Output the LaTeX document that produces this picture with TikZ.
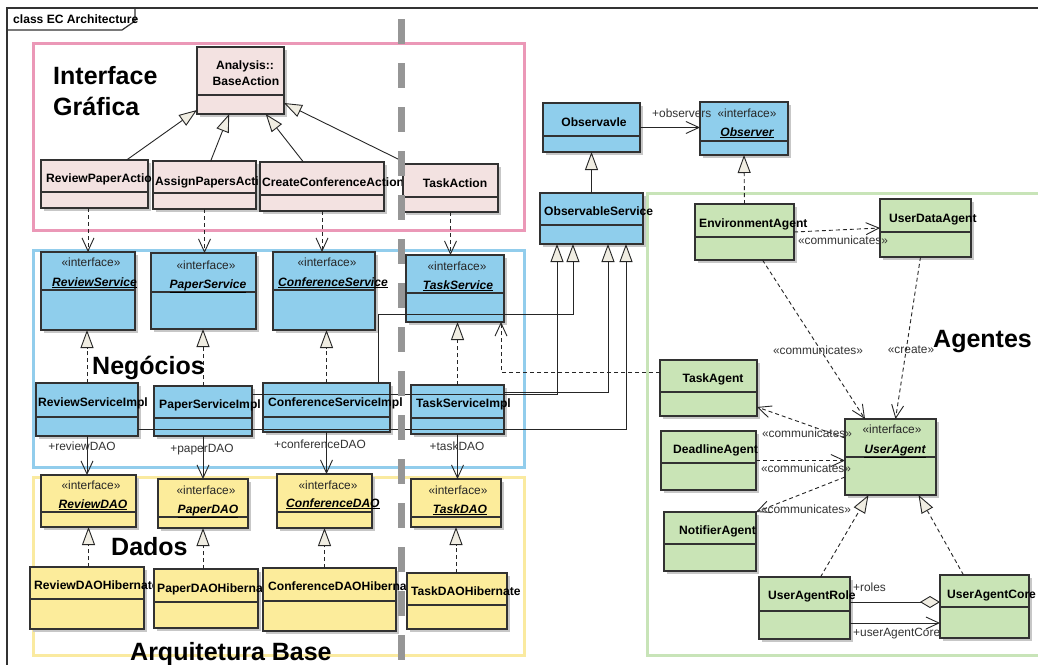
\documentclass[tikz,border=0pt]{standalone}
\usepackage{fontspec}
\setmainfont{Liberation Sans}
\usetikzlibrary{arrows.meta,calc,shadows}

\definecolor{pkpink}{RGB}{235,152,183}
\definecolor{pkblue}{RGB}{146,205,236}
\definecolor{pkyellow}{RGB}{250,234,160}
\definecolor{pkgreen}{RGB}{200,228,184}
\definecolor{clpink}{RGB}{243,226,225}
\definecolor{clblue}{RGB}{143,206,236}
\definecolor{clyellow}{RGB}{252,236,155}
\definecolor{clgreen}{RGB}{201,228,182}
\definecolor{trifill}{RGB}{240,237,226}
\definecolor{edge}{RGB}{50,50,50}
\definecolor{sepgray}{RGB}{150,150,150}

\tikzset{
  pkg/.style={line width=3pt},
  classbox/.style={draw=edge, line width=1.1pt, inner sep=0pt, outer sep=0pt, anchor=north west,
    drop shadow={shadow xshift=3pt, shadow yshift=-3pt, fill=black!22, opacity=1}},
  divline/.style={draw=edge, line width=1.1pt},
  nm/.style={font=\fontsize{12.1}{14}\selectfont\bfseries, inner sep=0pt, text=black},
  stereo/.style={font=\fontsize{11.9}{14}\selectfont, inner sep=0pt, text=black!85},
  ifname/.style={font=\fontsize{12.1}{14}\selectfont\bfseries\itshape, inner sep=0pt, text=black},
  lbl/.style={font=\fontsize{11.9}{14}\selectfont, inner sep=0pt, text=black!80},
  big/.style={font=\fontsize{25}{30}\selectfont\bfseries, inner sep=0pt, anchor=base west},
  conn/.style={draw=black!85, line width=0.9pt},
  gen/.style={conn, -{Triangle[length=18pt,width=13pt,fill=trifill]}},
  real/.style={gen, dash pattern=on 4pt off 3pt},
  assoc/.style={conn, -{Straight Barb[length=13pt,width=12pt]}},
  dep/.style={assoc, dash pattern=on 4pt off 3pt},
  aggr/.style={conn, -{Diamond[length=20pt,width=12pt,fill=trifill]}},
  sepbar/.style={line width=7pt, draw=sepgray, dash pattern=on 25pt off 19pt},
  framel/.style={draw=edge, line width=1.2pt},
}

% class box: name, fill, x1, y1, x2, y2, y of the compartment line
\newcommand\umlclass[7]{%
  \node[classbox, fill=#2, minimum width={(#5-#3)*1pt}, minimum height={(#6-#4)*1pt}] (#1) at (#3,#4) {};
  \draw[divline] (#3,#7) -- (#5,#7);
}

\begin{document}
\begin{tikzpicture}[x=1pt,y=-1pt]
\useasboundingbox (0,0) rectangle (1038,664);
\clip (0,0) rectangle (1038,664);
\fill[white] (0,0) rectangle (1038,664);

% layer packages
\draw[pkg, draw=pkpink]   (33,43)  rectangle (524,230);
\draw[pkg, draw=pkblue]   (33,250) rectangle (524,467);
\draw[pkg, draw=pkyellow] (33,477) rectangle (524,655);
\draw[pkg, draw=pkgreen]  (647,193) rectangle (1042,655);

% diagram frame and its tab
\draw[framel] (7,670) -- (7,8) -- (1045,8);
\draw[framel] (7,30) -- (122,30) -- (135,21) -- (135,8);
\node[nm, anchor=base west] (title) at (13,23) {class EC Architecture};

% layer titles
\node[big] (lgui1) at (53,84)  {Interface};
\node[big] (lgui2) at (53,115) {Gráfica};
\node[big] (lneg)  at (92,374) {Negócios};
\node[big] (ldad)  at (111,555) {Dados};
\node[big] (lbase) at (130,660) {Arquitetura Base};
\node[big] (lagt)  at (933,347) {Agentes};

% ---- user interface actions
\umlclass{ba}{clpink}{197}{47}{284}{114}{95}
\node[nm, anchor=base] (tba1) at (245,69) {Analysis::};
\node[nm, anchor=base] (tba2) at (246,85) {BaseAction};
\umlclass{rpa}{clpink}{41}{160}{148}{208}{192}
\node[nm, anchor=base west] (trpa) at (46,182) {ReviewPaperAction};
\umlclass{apa}{clpink}{153}{161}{256}{209}{193}
\node[nm, anchor=base west] (tapa) at (155,185) {AssignPapersAction};
\umlclass{cca}{clpink}{260}{162}{384}{211}{195}
\node[nm, anchor=base west] (tcca) at (262,186) {CreateConferenceAction};
\umlclass{ta}{clpink}{403}{164}{498}{212}{197}
\node[nm, anchor=base] (tta) at (455,187) {TaskAction};

% ---- business services
\umlclass{rs}{clblue}{41}{252}{135}{330}{290}
\node[stereo, anchor=base] (srs) at (91,266) {«interface»};
\node[ifname, anchor=base west] (trs) at (52,286) {\underline{ReviewService}};
\umlclass{ps}{clblue}{151}{253}{256}{329}{292}
\node[stereo, anchor=base] (sps) at (206,269) {«interface»};
\node[ifname, anchor=base] (tps) at (208,288) {\underline{PaperService}};
\umlclass{cs}{clblue}{273}{252}{375}{330}{290}
\node[stereo, anchor=base] (scs) at (327,266) {«interface»};
\node[ifname, anchor=base west] (tcs) at (278,286) {\underline{ConferenceService}};
\umlclass{ts}{clblue}{406}{255}{504}{322}{293}
\node[stereo, anchor=base] (sts) at (457,270) {«interface»};
\node[ifname, anchor=base] (tts) at (458,289) {\underline{TaskService}};

\umlclass{rsi}{clblue}{36}{383}{138}{436}{417}
\node[nm, anchor=base west] (trsi) at (38,406) {ReviewServiceImpl};
\umlclass{psi}{clblue}{154}{386}{252}{436}{418}
\node[nm, anchor=base west] (tpsi) at (159,408) {PaperServiceImpl};
\umlclass{csi}{clblue}{263}{383}{390}{432}{417}
\node[nm, anchor=base west] (tcsi) at (268,406) {ConferenceServiceImpl};
\umlclass{tsi}{clblue}{411}{385}{504}{434}{418}
\node[nm, anchor=base west] (ttsi) at (416,407) {TaskServiceImpl};

% ---- observer pattern
\umlclass{obv}{clblue}{543}{103}{640}{152}{136}
\node[nm, anchor=base] (tobv) at (594,126) {Observavle};
\umlclass{os}{clblue}{540}{193}{643}{244}{225}
\node[nm, anchor=base west] (tos) at (544,215) {ObservableService};
\umlclass{obs}{clblue}{700}{102}{788}{155}{141}
\node[stereo, anchor=base] (sobs) at (747,117) {«interface»};
\node[ifname, anchor=base] (tobs) at (747,136) {\underline{Observer}};

% ---- data access
\umlclass{rd}{clyellow}{41}{475}{136}{527}{512}
\node[stereo, anchor=base] (srd) at (91,489) {«interface»};
\node[ifname, anchor=base] (trd) at (93,508) {\underline{ReviewDAO}};
\umlclass{pd}{clyellow}{158}{479}{248}{528}{517}
\node[stereo, anchor=base] (spd) at (206,494) {«interface»};
\node[ifname, anchor=base] (tpd) at (208,513) {\underline{PaperDAO}};
\umlclass{cd}{clyellow}{277}{474}{372}{528}{512}
\node[stereo, anchor=base] (scd) at (328,489) {«interface»};
\node[ifname, anchor=base west] (tcd) at (286,507) {\underline{ConferenceDAO}};
\umlclass{td}{clyellow}{411}{479}{501}{527}{517}
\node[stereo, anchor=base] (std) at (458,494) {«interface»};
\node[ifname, anchor=base] (ttd) at (460,513) {\underline{TaskDAO}};

\umlclass{rdh}{clyellow}{30}{567}{144}{629}{599}
\node[nm, anchor=base west] (trdh) at (34,589) {ReviewDAOHibernate};
\umlclass{pdh}{clyellow}{154}{569}{258}{628}{602}
\node[nm, anchor=base west] (tpdh) at (157,592) {PaperDAOHibernate};
\umlclass{cdh}{clyellow}{263}{568}{396}{631}{601}
\node[nm, anchor=base west] (tcdh) at (268,590) {ConferenceDAOHibernate};
\umlclass{tdh}{clyellow}{407}{573}{507}{629}{605}
\node[nm, anchor=base west] (ttdh) at (411,595) {TaskDAOHibernate};

% ---- agents
\umlclass{ea}{clgreen}{695}{204}{794}{260}{237}
\node[nm, anchor=base west] (tea) at (699,227) {EnvironmentAgent};
\umlclass{uda}{clgreen}{880}{199}{971}{257}{232}
\node[nm, anchor=base west] (tuda) at (889,222) {UserDataAgent};
\umlclass{tag}{clgreen}{660}{360}{757}{416}{392}
\node[nm, anchor=base] (ttag) at (713,382) {TaskAgent};
\umlclass{dla}{clgreen}{661}{431}{756}{490}{463}
\node[nm, anchor=base west] (tdla) at (673,453) {DeadlineAgent};
\umlclass{na}{clgreen}{664}{512}{756}{571}{544}
\node[nm, anchor=base west] (tna) at (679,534) {NotifierAgent};
\umlclass{ua}{clgreen}{845}{419}{936}{495}{457}
\node[stereo, anchor=base] (sua) at (892,433) {«interface»};
\node[ifname, anchor=base] (tua) at (895,453) {\underline{UserAgent}};
\umlclass{uar}{clgreen}{759}{577}{850}{639}{611}
\node[nm, anchor=base west] (tuar) at (768,599) {UserAgentRole};
\umlclass{uac}{clgreen}{940}{575}{1029}{638}{607}
\node[nm, anchor=base west] (tuac) at (947,598) {UserAgentCore};

% ---- connectors: actions
\draw[gen] ($(rpa.north west)!0.8!(rpa.north east)$) -- ($(ba.south west)+(0,-4)$);
\draw[gen] ($(apa.north west)!0.56!(apa.north east)$) -- ($(ba.south west)!0.37!(ba.south east)$);
\draw[gen] ($(cca.north west)!0.35!(cca.north east)$) -- ($(ba.south west)!0.79!(ba.south east)$);
\draw[gen] ($(ta.north west)+(-3,-4)$) -- ($(ba.south east)+(0,-11)$);

\draw[dep] (rs.north |- rpa.south) -- (rs.north);
\draw[dep] (apa.south) -- (apa.south |- ps.north);
\draw[dep] (cca.south) -- (cca.south |- cs.north);
\draw[dep] (ta.south) -- (ta.south |- ts.north);

% ---- connectors: services
\draw[real] (rsi.north) -- (rsi.north |- rs.south);
\draw[real] (psi.north) -- (psi.north |- ps.south);
\draw[real] (csi.north) -- (csi.north |- cs.south);
\draw[real] (tsi.north) -- (tsi.north |- ts.south);

\coordinate (os1) at ($(os.south west)!0.165!(os.south east)$);
\coordinate (os2) at ($(os.south west)!0.32!(os.south east)$);
\coordinate (os3) at ($(os.south west)!0.66!(os.south east)$);
\coordinate (os4) at ($(os.south west)!0.835!(os.south east)$);
\draw[gen] ($(rsi.south east)+(0,-7)$) -| (os4);
\draw[gen] ($(psi.north east)+(0,8)$) -| (os1);
\draw[gen] ($(tsi.north east)+(0,7)$) -| (os3);
\draw[gen] ($(csi.north east)+(-12,0)$) |- ($(os2)+(0,70)$) -- (os2);

\draw[assoc] (rsi.south) -- (rsi.south |- rd.north);
\draw[assoc] (psi.south) -- (psi.south |- pd.north);
\draw[assoc] (csi.south) -- (csi.south |- cd.north);
\draw[assoc] (tsi.south) -- (tsi.south |- td.north);
\node[lbl, anchor=base] (lrd) at (82,450) {+reviewDAO};
\node[lbl, anchor=base] (lpd) at (202,452) {+paperDAO};
\node[lbl, anchor=base] (lcd) at (320,448) {+conferenceDAO};
\node[lbl, anchor=base] (ltd) at (457,450) {+taskDAO};

% ---- connectors: data access
\draw[real] (rd.south |- rdh.north) -- (rd.south);
\draw[real] (pd.south |- pdh.north) -- (pd.south);
\draw[real] (cd.south |- cdh.north) -- (cd.south);
\draw[real] (td.south |- tdh.north) -- (td.south);

% ---- connectors: observer pattern
\draw[gen] (os.north) -- (obv.south);
\draw[assoc] (obv.east) -- (obv.east -| obs.west);
\node[lbl, anchor=base west] (lobs) at (652,117) {+observers};
\draw[real] (ea.north) -- (obs.south);

% ---- connectors: agents
\draw[dep] ($(tag.north west)+(0,12)$) -| ($(ts.south east)+(-3,0)$);
\draw[dep] (ea.east) -- (uda.west);
\node[lbl, anchor=base] (lc1) at (843,244) {«communicates»};
\draw[dep] ($(ea.south)+(18,0)$) -- ($(ua.north west)+(20,0)$);
\node[lbl, anchor=base] (lc2) at (818,354) {«communicates»};
\draw[dep] ($(uda.south)+(-5,0)$) -- ($(ua.north)+(5,0)$);
\node[lbl, anchor=base] (lcr) at (911,353) {«create»};
\draw[dep] ($(ua.north west)+(0,19)$) -- ($(tag.south east)+(0,-9)$);
\node[lbl, anchor=base] (lc3) at (807,437) {«communicates»};
\draw[dep] (dla.east) -- (dla.east -| ua.west);
\node[lbl, anchor=base] (lc4) at (806,472) {«communicates»};
\draw[dep] ($(ua.west)+(0,20)$) -- (na.north east);
\node[lbl, anchor=base] (lc5) at (806,513) {«communicates»};
\draw[real] ($(uar.north)+(16,0)$) -- ($(ua.south)+(-22,0)$);
\draw[real] ($(uac.north)+(-21,0)$) -- ($(ua.south)+(28,0)$);
\coordinate (rolesA) at ($(uar.north east)+(0,25)$);
\coordinate (coreA) at ($(uar.north east)+(0,46)$);
\draw[aggr] (rolesA) -- (rolesA -| uac.west);
\draw[assoc] (coreA) -- (coreA -| uac.west);
\node[lbl, anchor=base west] (lro) at (853,591) {+roles};
\node[lbl, anchor=base west] (luc) at (853,636) {+userAgentCore};

% ---- layer separator
\draw[sepbar] (401,19) -- (401,670);
\end{tikzpicture}
\end{document}
